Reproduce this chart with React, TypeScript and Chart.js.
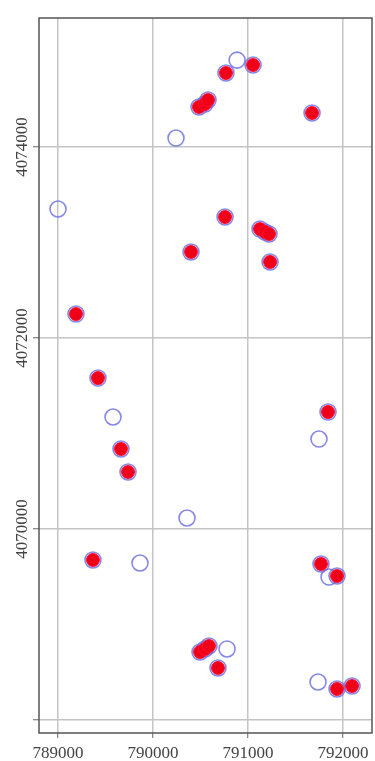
import React, { useEffect, useRef } from 'react';
import { Chart, registerables } from 'chart.js';

Chart.register(...registerables);

// Axis ticks and labels
const xTicks = [789000, 790000, 791000, 792000];
const xTickLabels = ['789000', '790000', '791000', '792000'];
const yTicks = [4068000, 4070000, 4072000, 4074000];
const yTickLabels = ['', '4070000', '4072000', '4074000'];

// Axis ranges
const xMin = 788800;
const xMax = 792305;
const yMin = 4067864;
const yMax = 4075351;

// Sites surveyed without detection (open blue circles)
const absentX = [790885, 790242, 789000, 789579, 791747, 790358, 789863, 791853, 790779, 791737];
const absentY = [4074910, 4074094, 4073351, 4071173, 4070942, 4070115, 4069644, 4069497, 4068744, 4068398];

// Sites with detection (filled red points)
const presentX = [
  791053, 790768, 790484, 790547, 790579, 791674, 790758, 790400, 791126, 791179,
  791221, 791232, 789189, 789421, 791842, 789663, 789737, 789368, 791768, 791937,
  790495, 790547, 790589, 790684, 791937, 792095,
];
const presentY = [
  4074859, 4074775, 4074419, 4074450, 4074492, 4074356, 4073267, 4072901, 4073141, 4073110,
  4073089, 4072796, 4072251, 4071581, 4071225, 4070838, 4070597, 4069676, 4069634, 4069508,
  4068712, 4068744, 4068775, 4068545, 4068325, 4068356,
];

const FONT = '"Liberation Serif", "DejaVu Serif", serif';
const TEXT_COLOR = '#444';

const framePlugin = {
  id: 'frame',
  afterDraw(chart: any) {
    const { ctx, chartArea: a, scales } = chart;
    ctx.save();
    ctx.strokeStyle = '#555';
    ctx.lineWidth = 1.5;
    ctx.strokeRect(a.left, a.top, a.right - a.left, a.bottom - a.top);
    ctx.fillStyle = TEXT_COLOR;
    ctx.font = '17px ' + FONT;
    ctx.textAlign = 'center';
    ctx.textBaseline = 'middle';
    yTicks.forEach((v, i) => {
      const py = scales.y.getPixelForValue(v);
      ctx.save();
      ctx.translate(a.left - 16, py);
      ctx.rotate(-Math.PI / 2);
      ctx.fillText(yTickLabels[i], 0, 0);
      ctx.restore();
    });
    ctx.restore();
  },
};

export default function App() {
  const ref = useRef<HTMLCanvasElement | null>(null);

  useEffect(() => {
    if (!ref.current) return;
    const present = presentX.map((x, i) => ({ x, y: presentY[i] }));
    const all = absentX.map((x, i) => ({ x, y: absentY[i] })).concat(present);
    const chart = new Chart(ref.current, {
      type: 'scatter',
      data: {
        datasets: [
          {
            label: 'present',
            data: present,
            pointRadius: 6.5,
            pointHoverRadius: 6.5,
            backgroundColor: '#f00018',
            borderColor: '#ff1030',
            borderWidth: 1,
          },
          {
            label: 'surveyed',
            data: all,
            pointRadius: 8,
            pointHoverRadius: 8,
            backgroundColor: 'rgba(0,0,0,0)',
            borderColor: 'rgba(105,105,225,0.8)',
            borderWidth: 1.6,
          },
        ],
      },
      options: {
        responsive: false,
        animation: false,
        events: [],
        layout: { autoPadding: false, padding: { top: 18, right: 3, left: 0, bottom: 0 } },
        plugins: { legend: { display: false }, tooltip: { enabled: false } },
        scales: {
          x: {
            type: 'linear',
            min: xMin,
            max: xMax,
            afterBuildTicks: (s: any) => {
              s.ticks = xTicks.map((v) => ({ value: v }));
            },
            afterFit: (s: any) => {
              s.height = 28;
              s.paddingLeft = 0;
              s.paddingRight = 0;
            },
            border: { display: false },
            grid: {
              color: '#c4c4c4',
              lineWidth: 1.5,
              tickColor: '#666',
              tickLength: 5,
              tickWidth: 1,
            },
            ticks: {
              autoSkip: false,
              maxRotation: 0,
              padding: 5,
              color: TEXT_COLOR,
              font: { family: FONT, size: 17 },
              callback: (v: any) => {
                const i = xTicks.indexOf(Number(v));
                return i >= 0 ? xTickLabels[i] : '';
              },
            },
          },
          y: {
            type: 'linear',
            min: yMin,
            max: yMax,
            afterBuildTicks: (s: any) => {
              s.ticks = yTicks.map((v) => ({ value: v }));
            },
            afterFit: (s: any) => {
              s.width = 39;
              s.paddingTop = 0;
              s.paddingBottom = 0;
            },
            border: { display: false },
            grid: {
              color: '#c4c4c4',
              lineWidth: 1.5,
              tickColor: '#666',
              tickLength: 6,
              tickWidth: 1,
            },
            ticks: { display: false },
          },
        },
      },
      plugins: [framePlugin],
    });
    return () => chart.destroy();
  }, []);

  return (
    <div style={{ position: 'absolute', left: 0, top: 0, width: 375, height: 761, background: '#fff' }}>
      <canvas ref={ref} width={375} height={761} style={{ display: 'block' }} />
    </div>
  );
}
